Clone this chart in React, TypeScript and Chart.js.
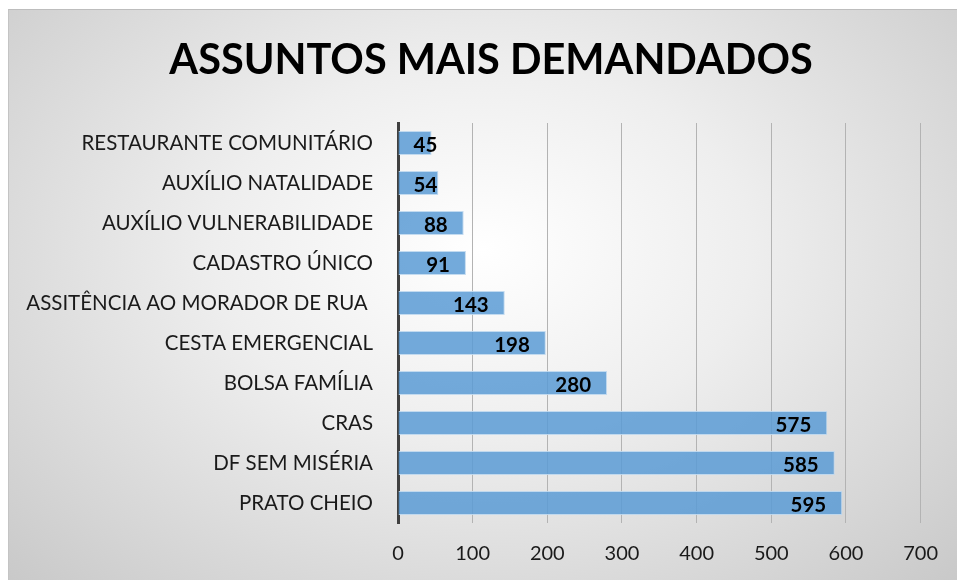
import React, { useEffect, useRef } from "react";
import { Chart, registerables } from "chart.js";

Chart.register(...registerables);

const TITLE = "ASSUNTOS MAIS DEMANDADOS";
const categories = [
  "RESTAURANTE COMUNITÁRIO",
  "AUXÍLIO NATALIDADE",
  "AUXÍLIO VULNERABILIDADE",
  "CADASTRO ÚNICO",
  "ASSITÊNCIA AO MORADOR DE RUA ",
  "CESTA EMERGENCIAL",
  "BOLSA FAMÍLIA",
  "CRAS",
  "DF SEM MISÉRIA",
  "PRATO CHEIO",
];
const values = [45, 54, 88, 91, 143, 198, 280, 575, 585, 595];
const xMin = 0;
const xMax = 700;
const xStep = 100;

const FONT = "Lato, 'Open Sans', sans-serif";

const labelPlugin = {
  id: "barLabels",
  afterDatasetsDraw(chart: any) {
    const ctx = chart.ctx;
    const meta = chart.getDatasetMeta(0);
    ctx.save();
    ctx.font = `bold 20.5px ${FONT}`;
    ctx.fillStyle = "#000000";
    ctx.textBaseline = "middle";
    ctx.textAlign = "left";
    meta.data.forEach((bar: any, i: number) => {
      const text = String(values[i]);
      const w = ctx.measureText(text).width;
      let left = bar.x - 16 - w;
      if (left < bar.base + 15) left = bar.base + 15;
      ctx.fillText(text, left, bar.y + 2);
    });
    ctx.restore();
  },
};

const titlePlugin = {
  id: "customTitle",
  afterDraw(chart: any) {
    const ctx = chart.ctx;
    ctx.save();
    ctx.font = `bold 41.5px ${FONT}`;
    ctx.fillStyle = "#000000";
    ctx.textAlign = "center";
    ctx.textBaseline = "middle";
    ctx.fillText(TITLE, chart.width / 2 + 8, 51);
    ctx.restore();
  },
};

export default function App() {
  const ref = useRef<HTMLCanvasElement | null>(null);
  useEffect(() => {
    if (!ref.current) return;
    const chart = new Chart(ref.current, {
      type: "bar",
      data: {
        labels: categories,
        datasets: [
          {
            data: values,
            backgroundColor: "rgba(91,155,213,0.85)",
            borderColor: "rgba(189,215,238,0.9)",
            borderWidth: 1,
            barPercentage: 0.6,
            categoryPercentage: 1,
          },
        ],
      },
      options: {
        indexAxis: "y",
        animation: false,
        responsive: false,
        maintainAspectRatio: false,
        layout: { padding: { left: 0, right: 34, top: 113, bottom: -5 } },
        plugins: {
          legend: { display: false },
          tooltip: { enabled: false },
          title: { display: false },
        },
        scales: {
          x: {
            min: xMin,
            max: xMax,
            ticks: {
              stepSize: xStep,
              color: "#1a1a1a",
              font: { family: FONT, size: 20 },
              padding: 19,
            },
            grid: { color: "#b3b3b3", lineWidth: 1, drawTicks: false },
            border: { display: false },
          },
          y: {
            ticks: {
              color: "#1a1a1a",
              font: { family: FONT, size: 20.5 },
              padding: 25,
              autoSkip: false,
            },
            grid: { display: false, drawTicks: false },
            border: { display: true, color: "#404040", width: 3 },
            afterFit(axis: any) {
              axis.width = 389;
            },
          },
        },
      },
      plugins: [labelPlugin, titlePlugin],
    });
    return () => chart.destroy();
  }, []);

  return (
    <div
      style={{
        position: "fixed",
        left: 8,
        top: 9,
        width: 949,
        height: 571,
        borderTop: "1px solid #bdbdbd",
        borderLeft: "1px solid #c4c4c4",
        boxSizing: "border-box",
        background:
          "radial-gradient(ellipse farthest-corner at 50% 42%, #ffffff 0%, #eeeeee 40%, #c9c9c9 100%)",
      }}
    >
      <canvas ref={ref} width={948} height={570} style={{ display: "block" }} />
    </div>
  );
}
